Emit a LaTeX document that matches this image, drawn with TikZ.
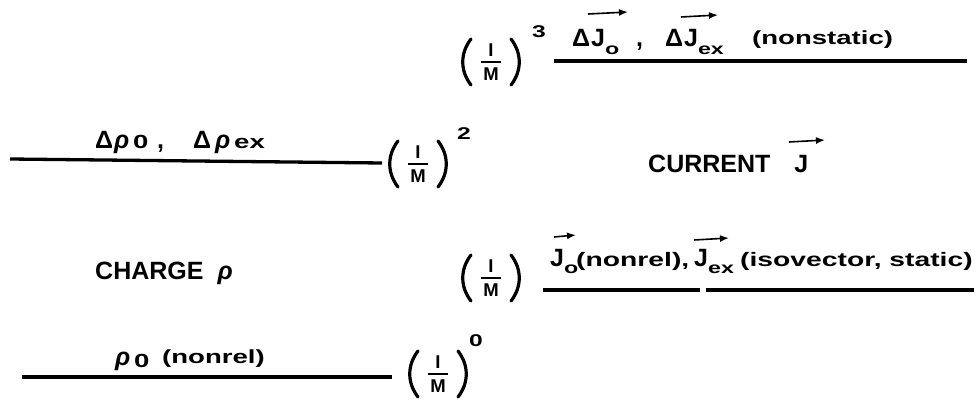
\documentclass[tikz,border=0pt]{standalone}
\usepackage{fontspec}
\setmainfont{Liberation Sans}
\newfontfamily\widefont[FakeStretch=1.45]{Liberation Sans Bold}
\usetikzlibrary{arrows.meta}
\newcommand{\lowsub}[1]{\raisebox{-0.3em}{\widefont\fontsize{16}{16}\selectfont #1}}
% fraction (1/M): name, x-centre, y-centre
\newcommand{\invMfrac}[3]{%
  \node[fracl] (#1num) at (#2,#3-12) {I};
  \node[fracl] (#1den) at (#2,#3+12) {M};
  \draw[fbar] (#2-10,#3) -- (#2+10,#3);
  \draw[paren] (#2-20,#3-23) .. controls (#2-31,#3-9) and (#2-31,#3+9) .. (#2-20,#3+23);
  \draw[paren] (#2+20,#3-23) .. controls (#2+31,#3-9) and (#2+31,#3+9) .. (#2+20,#3+23);
}
\begin{document}
\begin{tikzpicture}[x=1pt,y=-1pt,
  every node/.style={inner sep=0pt},
  capt/.style={font=\fontsize{25}{28}\selectfont\bfseries},
  lowt/.style={font=\widefont\fontsize{19}{22}\selectfont},
  lowtb/.style={font=\widefont\fontsize{19.5}{22}\selectfont},
  fracl/.style={font=\fontsize{18.5}{19}\selectfont\bfseries},
  expo/.style={font=\widefont\fontsize{17}{18}\selectfont},
  fbar/.style={line width=2.2pt},
  paren/.style={line width=3.2pt, line cap=round},
  rule/.style={line width=3.3pt},
  vecarr/.style={line width=1.6pt, -{Latex[length=9pt,width=7pt]}}]
\useasboundingbox (0,0) rectangle (977,404);
% ---------- row 1 : (1/M)^3
\invMfrac{f3}{491}{62}
\node[expo] (e3) at (539,32) {3};
\coordinate (l1a) at (554,61);
\coordinate (l1b) at (967,61);
\draw[rule] (l1a) -- (l1b);
\node[capt, anchor=base west] (r1a) at (572,47) {Δ\hspace{1pt}J\lowsub{o}};
\node[capt, anchor=base west] (r1b) at (636,47) {,};
\node[capt, anchor=base west] (r1c) at (665,47) {Δ\hspace{1pt}J\lowsub{ex}};
\node[lowt, anchor=base west] (r1d) at (752,45) {(nonstatic)};
\draw[vecarr] (588,14) -- (628,12);
\draw[vecarr] (681,17) -- (718,15);
% ---------- row 2 : (1/M)^2
\coordinate (l2a) at (10,159);
\coordinate (l2b) at (382,163);
\draw[rule] (l2a) -- (l2b);
\node[capt, anchor=base west] (r2a) at (95,148) {Δ};
\node[capt, anchor=base west] (r2b) at (114,148) {\textit{ρ}};
\node[lowt, anchor=base west] (r2c) at (133,148) {0};
\node[capt, anchor=base west] (r2d) at (157,148) {,};
\node[capt, anchor=base west] (r2e) at (193,148) {Δ};
\node[capt, anchor=base west] (r2f) at (215,148) {\textit{ρ}};
\node[lowt, anchor=base west] (r2g) at (234,148) {ex};
\invMfrac{f2}{418}{164}
\node[expo] (e2) at (464,134) {2};
\node[capt, anchor=base west] (cur) at (648,172) {CURRENT\hspace{24pt}J};
\draw[vecarr] (789,142) -- (825,140);
% ---------- row 3 : (1/M)
\node[capt, anchor=base west] (chg) at (95,279) {CHARGE\hspace{14pt}\textit{ρ}};
\invMfrac{f1}{491}{278}
\coordinate (l3a) at (543,290);
\coordinate (l3b) at (700,290);
\coordinate (l3c) at (706,290);
\coordinate (l3d) at (974,290);
\draw[rule] (l3a) -- (l3b);
\draw[rule] (l3c) -- (l3d);
\node[capt, anchor=base west] (r3a) at (550,266) {J\lowsub{o}};
\node[lowtb, anchor=base west] (r3b) at (576,266) {(nonrel),};
\node[capt, anchor=base west] (r3c) at (694,266) {J\lowsub{ex}};
\node[lowtb, anchor=base west] (r3d) at (740,266) {(isovector, static)};
\draw[vecarr] (554,237) -- (576,235);
\draw[vecarr] (694,240) -- (729,238);
% ---------- row 4 : (1/M)^0
\coordinate (l4a) at (22,377);
\coordinate (l4b) at (392,377);
\draw[rule] (l4a) -- (l4b);
\node[capt, anchor=base west] (r4a) at (115,365) {\textit{ρ}};
\node[lowt, anchor=base west] (r4b) at (134,367) {0};
\node[lowt, anchor=base west] (r4c) at (162,363) {(nonrel)};
\invMfrac{f0}{438}{374}
\node[expo] (e0) at (476,341) {0};
\end{tikzpicture}
\end{document}
